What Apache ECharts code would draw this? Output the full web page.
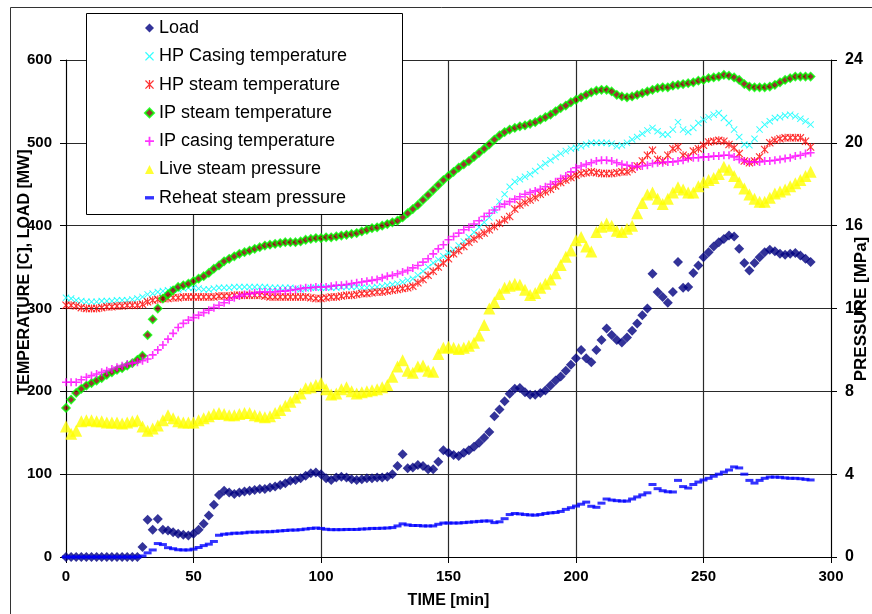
<!DOCTYPE html>
<html>
<head>
<meta charset="utf-8">
<title>Turbine start-up</title>
<script src="https://cdn.jsdelivr.net/npm/echarts@6/dist/echarts.min.js"></script>
<style>
  html, body { margin: 0; padding: 0; background: #fff; }
  #chart { width: 872px; height: 614px; }
</style>
</head>
<body>
<div id="chart"></div>
<script>
// Sampling instants [min], one reading every 2 minutes
const MINUTES = [
  0, 2, 4, 6, 8, 10, 12, 14, 16, 18,
  20, 22, 24, 26, 28, 30, 32, 34, 36, 38,
  40, 42, 44, 46, 48, 50, 52, 54, 56, 58,
  60, 62, 64, 66, 68, 70, 72, 74, 76, 78,
  80, 82, 84, 86, 88, 90, 92, 94, 96, 98,
  100, 102, 104, 106, 108, 110, 112, 114, 116, 118,
  120, 122, 124, 126, 128, 130, 132, 134, 136, 138,
  140, 142, 144, 146, 148, 150, 152, 154, 156, 158,
  160, 162, 164, 166, 168, 170, 172, 174, 176, 178,
  180, 182, 184, 186, 188, 190, 192, 194, 196, 198,
  200, 202, 204, 206, 208, 210, 212, 214, 216, 218,
  220, 222, 224, 226, 228, 230, 232, 234, 236, 238,
  240, 242, 244, 246, 248, 250, 252, 254, 256, 258,
  260, 262, 264, 266, 268, 270, 272, 274, 276, 278,
  280, 282, 284, 286, 288, 290, 292
];

// Unit load [MW]
const LOAD = [
  0, 0, 0, 0, 0, 0, 0, 0, 0, 0,
  0, 0, 0, 0, 0, 12, 45, 33, 46, 33,
  32, 30, 28, 27, 26, 28, 33, 40, 50, 63,
  75, 80, 78, 76, 78, 79, 80, 81, 82, 82,
  84, 85, 87, 89, 92, 93, 95, 98, 101, 102,
  100, 95, 93, 96, 97, 96, 94, 93, 94, 95,
  95, 96, 96, 97, 100, 110, 124, 107, 108, 111,
  110, 106, 106, 115, 129, 126, 123, 122, 126, 129,
  133, 138, 144, 151, 170, 178, 188, 197, 203, 204,
  199, 196, 196, 198, 201, 207, 213, 218, 225, 232,
  240, 250, 240, 235, 250, 262, 276, 268, 262, 259,
  265, 273, 282, 292, 300, 342, 320, 314, 307, 320,
  356, 325, 326, 343, 352, 362, 368, 375, 380, 384,
  388, 387, 372, 355, 346, 355, 362, 368, 371, 369,
  366, 365, 366, 367, 364, 360, 356
];

// HP casing temperature [C]
const HP_CASING = [
  313, 312, 310, 309, 308, 308, 308, 309, 309, 309,
  310, 310, 310, 311, 312, 314, 317, 318, 320, 321,
  322, 323, 323, 324, 325, 325, 324, 323, 323, 324,
  325, 325, 325, 326, 326, 326, 326, 326, 326, 326,
  325, 325, 325, 325, 325, 324, 323, 324, 325, 325,
  325, 325, 325, 325, 326, 326, 326, 326, 325, 325,
  325, 326, 327, 328, 329, 330, 332, 334, 336, 340,
  345, 350, 355, 359, 363, 367, 371, 376, 381, 386,
  392, 398, 404, 410, 419, 429, 438, 447, 453, 456,
  459, 462, 466, 471, 475, 479, 483, 487, 490, 493,
  494, 496, 498, 500, 500, 500, 500, 499, 496, 497,
  500, 504, 507, 511, 515, 518, 514, 510, 510, 516,
  525, 516, 513, 518, 524, 528, 531, 534, 536, 530,
  524, 516, 507, 498, 497, 505, 516, 522, 526, 530,
  531, 533, 534, 532, 529, 526, 522
];

// HP steam temperature [C]
const HP_STEAM = [
  304, 304, 303, 301, 300, 300, 300, 301, 302, 302,
  303, 303, 304, 304, 304, 305, 308, 310, 311, 312,
  312, 313, 313, 314, 314, 314, 314, 314, 314, 314,
  315, 315, 315, 316, 316, 316, 316, 316, 316, 315,
  314, 314, 314, 314, 314, 314, 314, 314, 313, 312,
  312, 313, 314, 314, 315, 316, 316, 317, 318, 318,
  319, 320, 320, 321, 322, 323, 324, 325, 327, 331,
  335, 340, 345, 350, 355, 360, 366, 370, 375, 380,
  384, 388, 391, 395, 399, 403, 407, 411, 420, 425,
  428, 431, 434, 438, 441, 444, 448, 452, 455, 458,
  461, 463, 464, 465, 464, 463, 463, 463, 464, 465,
  465, 468, 472, 478, 485, 491, 480, 478, 485, 493,
  495, 485, 483, 490, 493, 497, 501, 502, 503, 502,
  498, 494, 487, 478, 476, 478, 483, 492, 500, 503,
  505, 506, 506, 506, 506, 502, 495
];

// IP steam temperature [C]
const IP_STEAM = [
  180, 190, 198, 203, 207, 210, 213, 216, 220, 223,
  226, 228, 231, 234, 238, 243, 268, 287, 300, 312,
  317, 322, 326, 328, 330, 333, 336, 339, 343, 348,
  352, 357, 360, 363, 366, 368, 370, 372, 374, 376,
  377, 378, 379, 380, 380, 380, 381, 383, 384, 385,
  385, 386, 386, 387, 388, 389, 390, 391, 393, 395,
  397, 398, 400, 402, 404, 406, 410, 415, 420, 425,
  431, 437, 443, 449, 455, 460, 465, 470, 474, 478,
  483, 488, 493, 498, 504, 509, 513, 516, 518, 520,
  521, 523, 525, 528, 531, 534, 538, 542, 545, 549,
  552, 555, 558, 561, 563, 564, 564, 562, 558, 556,
  555, 556, 558, 560, 562, 564, 566, 567, 567, 569,
  570, 571, 572, 573, 575, 576, 578, 579, 580, 582,
  581, 579, 576, 571, 568, 567, 567, 567, 568, 570,
  573, 576, 578, 580, 580, 580, 580
];

// IP casing temperature [C]
const IP_CASING = [
  211, 211, 211, 214, 217, 219, 221, 223, 225, 227,
  229, 231, 233, 234, 235, 237, 239, 244, 250, 256,
  263, 270, 277, 282, 286, 289, 292, 295, 298, 301,
  304, 307, 310, 313, 315, 317, 318, 319, 320, 320,
  320, 320, 321, 321, 322, 323, 324, 325, 325, 326,
  326, 326, 327, 328, 328, 329, 330, 331, 332, 333,
  334, 335, 337, 339, 340, 342, 344, 346, 349, 352,
  356, 360, 366, 372, 377, 383, 387, 391, 395, 398,
  402, 406, 411, 415, 419, 423, 426, 429, 432, 435,
  438, 440, 442, 444, 447, 450, 453, 457, 460, 465,
  470, 472, 474, 476, 478, 479, 479, 478, 476, 474,
  473, 472, 471, 472, 473, 475, 476, 476, 477, 477,
  478, 479, 481, 482, 482, 483, 483, 484, 484, 485,
  485, 483, 480, 478, 477, 477, 477, 478, 478, 479,
  480, 481, 482, 484, 485, 487, 488
];

// Live steam pressure [MPa]
const LIVE_PRESSURE = [
  6.3, 5.95, 6.1, 6.55, 6.6, 6.6, 6.55, 6.55, 6.5, 6.5,
  6.5, 6.45, 6.5, 6.55, 6.6, 6.3, 6.1, 6.2, 6.35, 6.6,
  6.85, 6.7, 6.55, 6.5, 6.5, 6.5, 6.6, 6.7, 6.8, 6.9,
  6.95, 6.9, 6.85, 6.85, 6.9, 6.95, 6.95, 6.85, 6.8, 6.75,
  6.8, 6.95, 7.1, 7.3, 7.5, 7.7, 7.9, 8.15, 8.2, 8.3,
  8.4, 8.1, 7.85, 7.9, 8.1, 8.2, 8.0, 7.9, 7.95, 8.0,
  8.05, 8.1, 8.2, 8.3, 8.7, 9.2, 9.5, 9.0, 8.9, 9.2,
  9.25, 9.0, 8.95, 9.8, 10.1, 10.15, 10.1, 10.05, 10.1, 10.2,
  10.35, 10.7, 11.2, 12.0, 12.3, 12.7, 13.0, 13.1, 13.2, 13.15,
  12.9, 12.65, 12.75, 13.0, 13.2, 13.4, 13.7, 14.1, 14.5, 14.8,
  15.3, 15.45, 15.0, 14.75, 15.7, 15.95, 16.1, 16.0, 15.75, 15.7,
  15.85, 16.0, 16.6, 17.1, 17.5, 17.6, 17.3, 17.05, 17.3, 17.6,
  17.85, 17.75, 17.6, 17.6, 17.9, 18.1, 18.2, 18.3, 18.5, 18.85,
  18.7, 18.4, 18.1, 17.8, 17.5, 17.3, 17.15, 17.15, 17.35, 17.55,
  17.65, 17.75, 17.9, 18.05, 18.2, 18.4, 18.6
];

// Reheat steam pressure [MPa]
const REHEAT_PRESSURE = [
  0, 0, 0, 0, 0, 0, 0, 0, 0, 0,
  0, 0, 0, 0, 0, 0.05, 0.2, 0.34, 0.65, 0.6,
  0.45, 0.4, 0.35, 0.34, 0.34, 0.38, 0.46, 0.55, 0.62, 0.75,
  1.05, 1.1, 1.12, 1.15, 1.15, 1.17, 1.2, 1.2, 1.21, 1.22,
  1.22, 1.24, 1.26, 1.28, 1.3, 1.3, 1.32, 1.35, 1.38, 1.4,
  1.38, 1.34, 1.32, 1.32, 1.32, 1.33, 1.33, 1.33, 1.35, 1.36,
  1.38, 1.38, 1.39, 1.4, 1.42, 1.5, 1.6, 1.55, 1.52, 1.52,
  1.5, 1.5, 1.5, 1.58, 1.64, 1.64, 1.64, 1.64, 1.66, 1.68,
  1.7, 1.72, 1.74, 1.74, 1.66, 1.7, 1.85, 2.05, 2.1, 2.08,
  2.05, 2.03, 2.02, 2.05, 2.1, 2.13, 2.15, 2.2, 2.3, 2.38,
  2.46, 2.55, 2.65, 2.45, 2.4, 2.6, 2.8, 2.75, 2.72, 2.7,
  2.7, 2.8, 2.9, 3.0, 3.1, 3.5, 3.3, 3.2, 3.15, 3.14,
  3.7, 3.4, 3.33, 3.5, 3.62, 3.72, 3.8, 3.9, 4.0, 4.1,
  4.2, 4.35, 4.3, 4.0, 3.7, 3.57, 3.7, 3.8, 3.86, 3.86,
  3.85, 3.82, 3.8, 3.8, 3.78, 3.75, 3.72
];

// Axis ranges and tick steps
const TIME_TICKS = { min: 0, max: 300, step: 50 };
const TEMP_TICKS = { min: 0, max: 600, step: 100 };
const PRESS_TICKS = { min: 0, max: 24, step: 4 };

// Marker shapes
const SYM_CROSS_X = 'path://M0,1L1,0L5,4L9,0L10,1L6,5L10,9L9,10L5,6L1,10L0,9L4,5Z';
const SYM_STAR = 'path://M0,1L1,0L5,4L9,0L10,1L6,5L10,9L9,10L5,6L1,10L0,9L4,5ZM4.3,0H5.7V10H4.3Z';
const SYM_PLUS = 'path://M4,0H6V4H10V6H6V10H4V6H0V4H4Z';
const SYM_DASH = 'path://M0,0H8V3H0Z';

function pairs(values) {
  return MINUTES.map((t, i) => [t, values[i]]);
}

const SANS = '"Liberation Sans", Arial, sans-serif';
const GRID_COLOR = '#2a2a2a';

const chart = echarts.init(document.getElementById('chart'), null, { renderer: 'canvas' });

function scatter(name, values, opts) {
  return Object.assign({
    name: name,
    type: 'scatter',
    data: pairs(values),
    animation: false,
    emphasis: { disabled: true },
    xAxisIndex: 0,
    yAxisIndex: 0
  }, opts);
}

const option = {
  animation: false,
  backgroundColor: '#fff',
  grid: { left: 66, right: 41, top: 60, bottom: 57, show: false },
  xAxis: {
    type: 'value',
    min: TIME_TICKS.min, max: TIME_TICKS.max, interval: TIME_TICKS.step,
    name: 'TIME [min]',
    nameLocation: 'middle',
    nameGap: 36,
    nameTextStyle: { fontFamily: SANS, fontWeight: 'bold', fontSize: 16, color: '#000' },
    axisLine: { onZero: false, lineStyle: { color: '#000', width: 1 } },
    axisTick: { show: true, inside: false, length: 6, lineStyle: { color: '#000' } },
    axisLabel: { margin: 12, fontFamily: SANS, fontWeight: 'bold', fontSize: 15, color: '#000' },
    splitLine: { show: true, lineStyle: { color: GRID_COLOR, width: 1.2 } }
  },
  yAxis: [
    {
      type: 'value',
      position: 'left',
      min: TEMP_TICKS.min, max: TEMP_TICKS.max, interval: TEMP_TICKS.step,
      axisLine: { show: true, lineStyle: { color: '#000', width: 1 } },
      axisTick: { show: true, length: 6, lineStyle: { color: '#000' } },
      axisLabel: { margin: 14, fontFamily: SANS, fontWeight: 'bold', fontSize: 15, color: '#000' },
      splitLine: { show: true, lineStyle: { color: GRID_COLOR, width: 1.2 } }
    },
    {
      type: 'value',
      position: 'right',
      min: PRESS_TICKS.min, max: PRESS_TICKS.max, interval: PRESS_TICKS.step,
      axisLine: { show: true, lineStyle: { color: '#000', width: 1 } },
      axisTick: { show: true, length: 6, lineStyle: { color: '#000' } },
      axisLabel: { margin: 14, fontFamily: SANS, fontWeight: 'bold', fontSize: 16, color: '#000' },
      splitLine: { show: false }
    }
  ],
  legend: {
    orient: 'vertical',
    left: 144,
    top: 18,
    z: 10,
    padding: 0,
    itemWidth: 9,
    itemHeight: 9,
    itemGap: 8.3,
    selectedMode: false,
    textStyle: { fontFamily: SANS, fontSize: 18, color: '#000', lineHeight: 20 },
    data: [
      'Load',
      'HP Casing temperature',
      'HP steam temperature',
      'IP steam temperature',
      'IP casing temperature',
      'Live steam pressure',
      'Reheat steam pressure'
    ]
  },
  graphic: [
    {
      type: 'rect', silent: true, z: 0,
      shape: { x: 10.5, y: 7.5, width: 900, height: 700 },
      style: { fill: 'none', stroke: '#333', lineWidth: 1 }
    },
    {
      type: 'rect', silent: true, z: 3,
      shape: { x: 86.5, y: 13.5, width: 316, height: 201 },
      style: { fill: '#fff', stroke: '#000', lineWidth: 1 }
    },
    {
      type: 'text', silent: true, z: 3,
      x: 25, y: 272, rotation: Math.PI / 2,
      style: {
        text: 'TEMPERATURE [C], LOAD [MW]',
        fill: '#000', font: 'bold 16px ' + SANS,
        align: 'center', verticalAlign: 'middle'
      }
    },
    {
      type: 'text', silent: true, z: 3,
      x: 861, y: 309, rotation: Math.PI / 2,
      style: {
        text: 'PRESSURE [MPa]',
        fill: '#000', font: 'bold 17px ' + SANS,
        align: 'center', verticalAlign: 'middle'
      }
    }
  ],
  series: [
    scatter('Load', LOAD, {
      symbol: 'diamond', symbolSize: 10,
      itemStyle: { color: '#000080' }
    }),
    scatter('HP Casing temperature', HP_CASING, {
      symbol: SYM_CROSS_X, symbolSize: 7,
      itemStyle: { color: '#00FFFF' }
    }),
    scatter('HP steam temperature', HP_STEAM, {
      symbol: SYM_STAR, symbolSize: 8,
      itemStyle: { color: '#FF0000' }
    }),
    scatter('IP steam temperature', IP_STEAM, {
      symbol: 'diamond', symbolSize: 8,
      itemStyle: { color: '#800000', borderColor: '#00FF00', borderWidth: 1.6 }
    }),
    scatter('IP casing temperature', IP_CASING, {
      symbol: SYM_PLUS, symbolSize: 8,
      itemStyle: { color: '#FF00FF' }
    }),
    scatter('Live steam pressure', LIVE_PRESSURE, {
      yAxisIndex: 1,
      symbol: 'triangle', symbolSize: 12,
      itemStyle: { color: '#FFFF00' }
    }),
    scatter('Reheat steam pressure', REHEAT_PRESSURE, {
      yAxisIndex: 1,
      symbol: SYM_DASH, symbolSize: [8, 3],
      itemStyle: { color: '#0000FF' }
    })
  ]
};

chart.setOption(option);
</script>
</body>
</html>
